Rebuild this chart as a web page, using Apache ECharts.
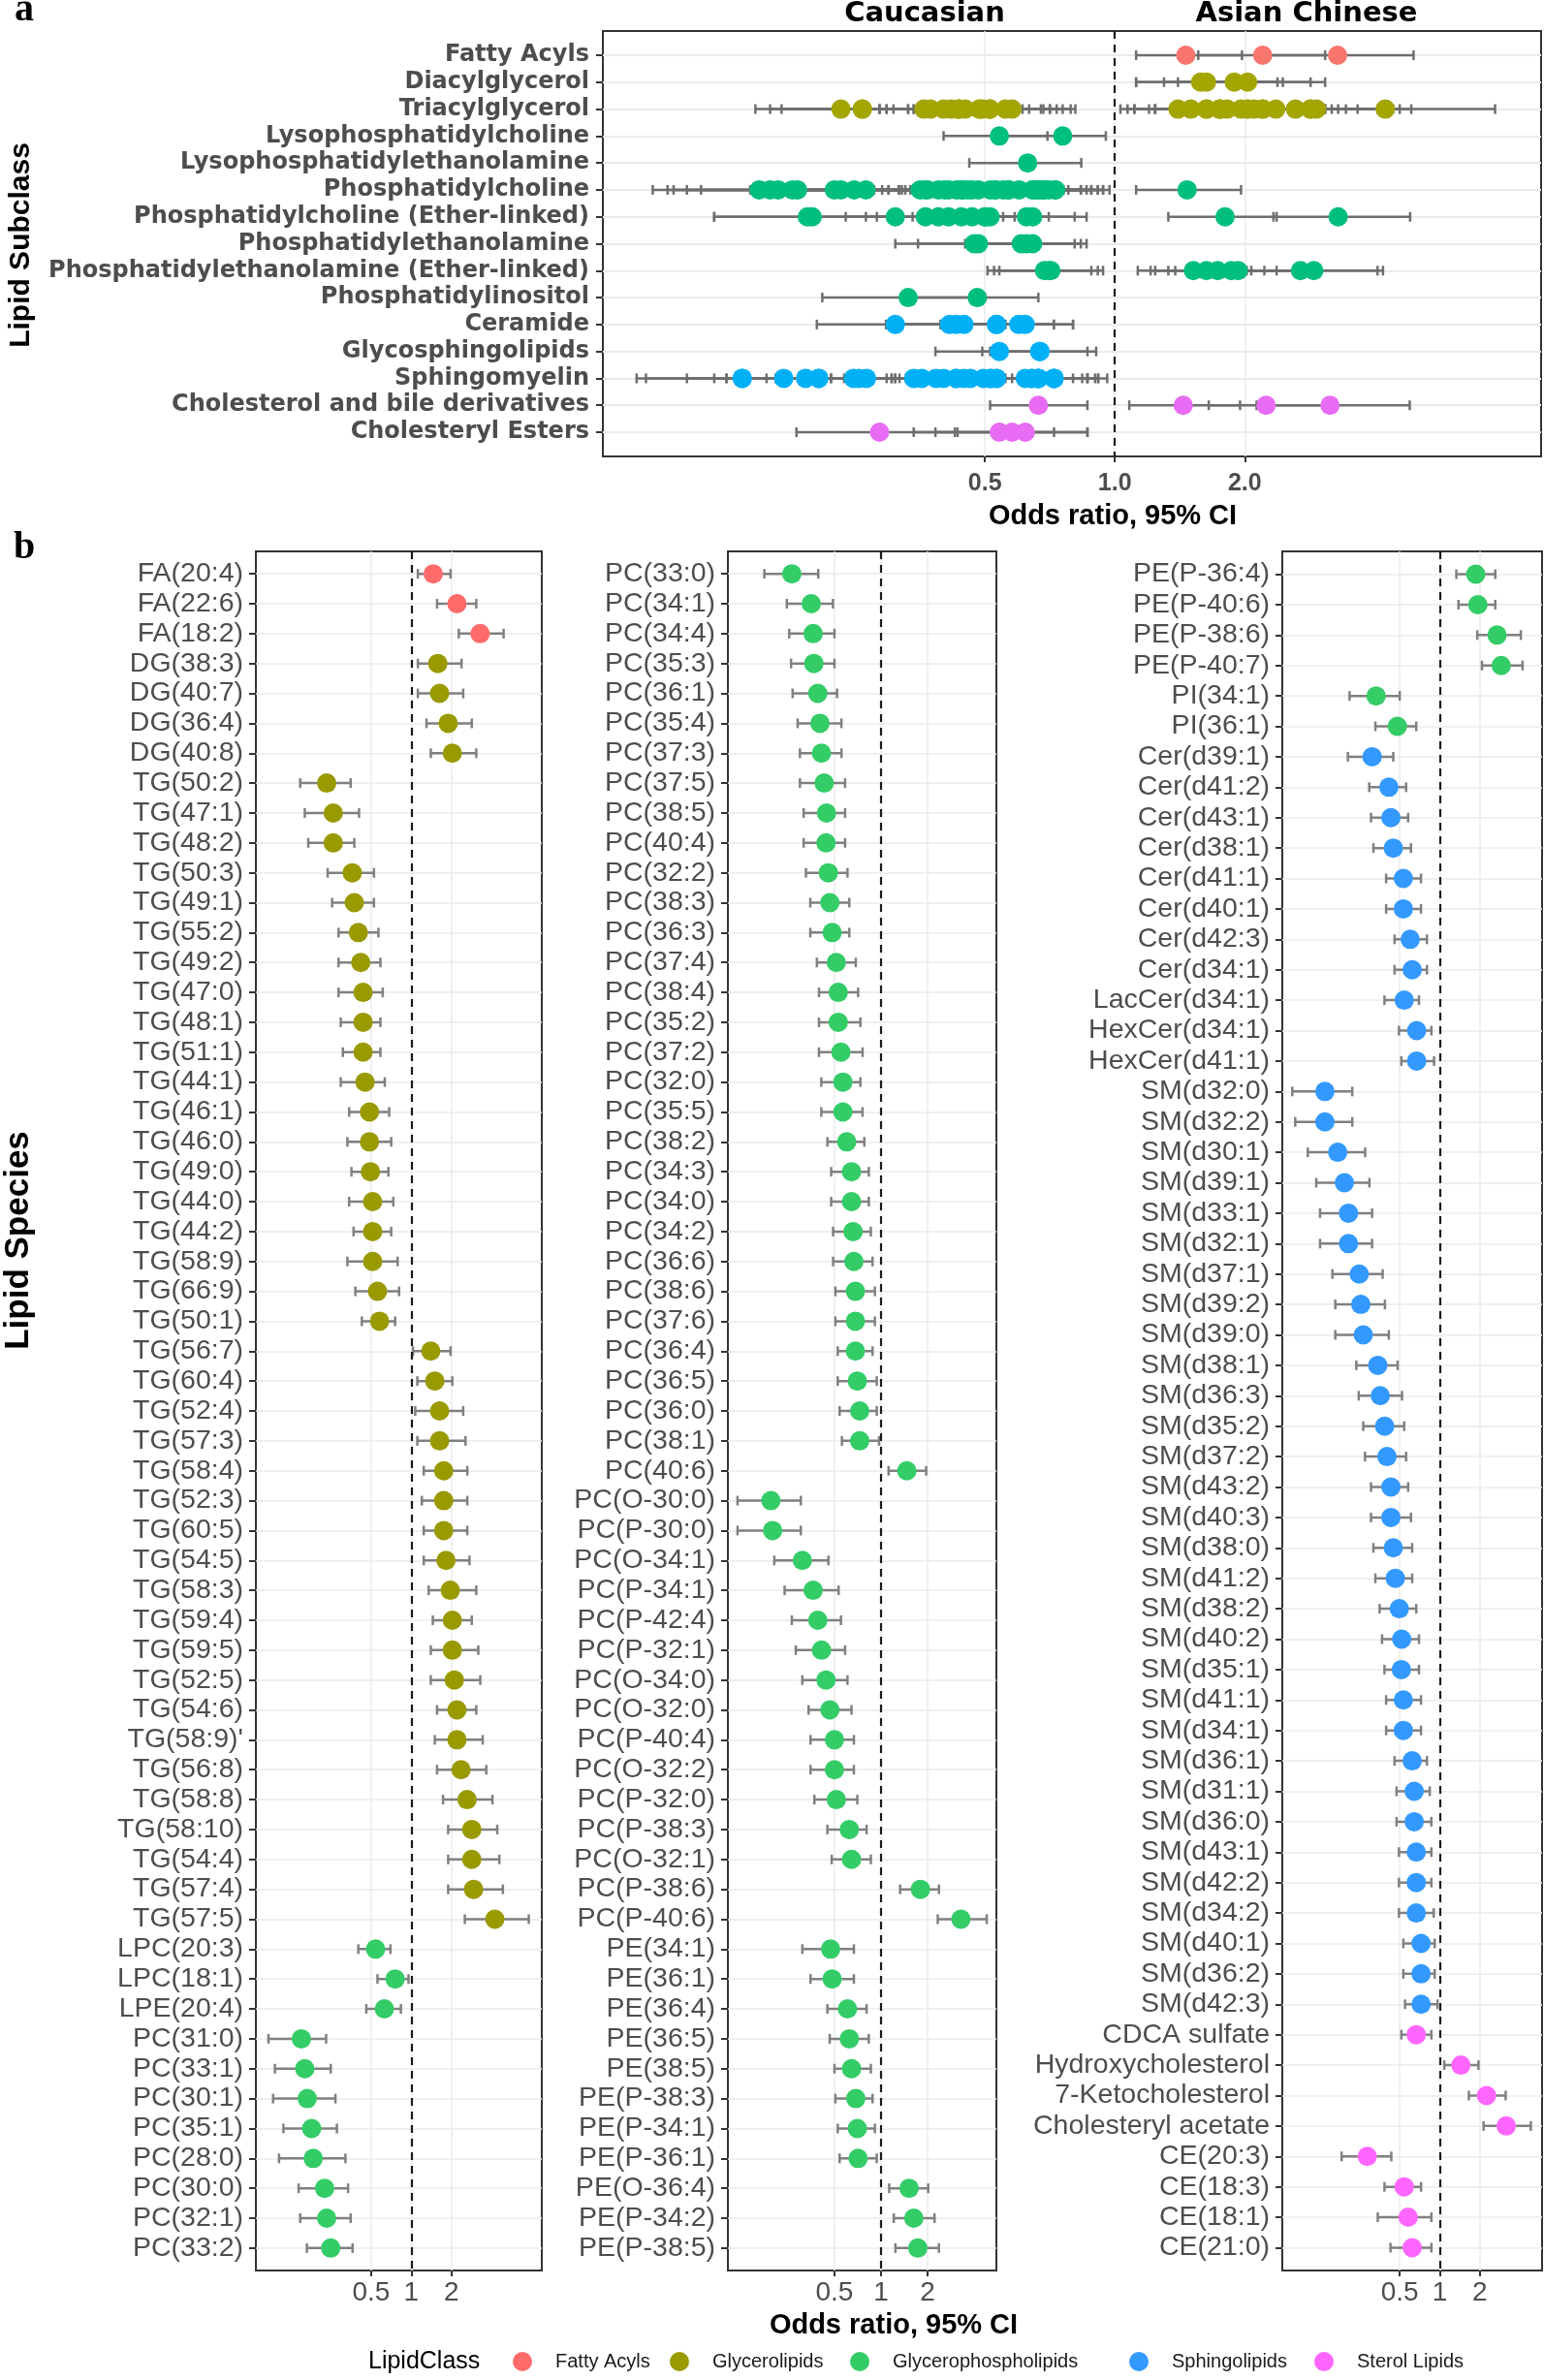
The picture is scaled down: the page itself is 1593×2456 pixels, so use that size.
<!DOCTYPE html>
<html><head><meta charset="utf-8">
<script src="https://cdn.jsdelivr.net/npm/echarts@6/dist/echarts.min.js"></script>
<style>html,body{margin:0;padding:0;background:#fff}#c{width:1593px;height:2456px}</style>
</head><body><div id="c"></div>
<script>
// ---------------- DATA ----------------
const b1Names = ['FA(20:4)','FA(22:6)','FA(18:2)','DG(38:3)','DG(40:7)','DG(36:4)','DG(40:8)','TG(50:2)','TG(47:1)','TG(48:2)','TG(50:3)','TG(49:1)','TG(55:2)','TG(49:2)','TG(47:0)','TG(48:1)','TG(51:1)','TG(44:1)','TG(46:1)','TG(46:0)','TG(49:0)','TG(44:0)','TG(44:2)','TG(58:9)','TG(66:9)','TG(50:1)','TG(56:7)','TG(60:4)','TG(52:4)','TG(57:3)','TG(58:4)','TG(52:3)','TG(60:5)','TG(54:5)','TG(58:3)','TG(59:4)','TG(59:5)','TG(52:5)','TG(54:6)',"TG(58:9)'",'TG(56:8)','TG(58:8)','TG(58:10)','TG(54:4)','TG(57:4)','TG(57:5)','LPC(20:3)','LPC(18:1)','LPE(20:4)','PC(31:0)','PC(33:1)','PC(30:1)','PC(35:1)','PC(28:0)','PC(30:0)','PC(32:1)','PC(33:2)'];
const b1OR = [1.46,2.2,3.28,1.58,1.63,1.89,2.03, 0.232,0.26,0.26,0.361,0.374,0.401,0.418,0.435,0.435,0.435,0.45,0.486, 0.486,0.494,0.513,0.513,0.513,0.558,0.578, 1.40,1.50,1.63,1.63,1.75,1.75,1.75,1.82,1.96,2.03,2.03,2.10,2.2,2.2,2.36,2.62, 2.84,2.84,2.93,4.23, 0.54,0.757,0.628, 0.15,0.159,0.166,0.179,0.184,0.224,0.232,0.249];
const b1Lo = [1.12,1.56,2.27,1.12,1.12,1.30,1.40, 0.147,0.159,0.169,0.236,0.255,0.285,0.285,0.285,0.296,0.307,0.296,0.342, 0.332,0.356,0.342,0.369,0.332,0.381,0.426, 1.03,1.11,1.07,1.11,1.24,1.20,1.24,1.24,1.35,1.45,1.40,1.40,1.56,1.50,1.56,1.73, 1.89,1.89,1.89,2.52, 0.401,0.558,0.46, 0.085,0.095,0.092,0.11,0.102,0.143,0.147,0.165];
const b1Hi = [1.97,3.07,4.92,2.38,2.45,2.84,3.07, 0.351,0.406,0.374,0.525,0.525,0.567,0.587,0.611,0.587,0.587,0.633,0.683, 0.707,0.674,0.733,0.707,0.79,0.81,0.757, 1.97,2.03,2.45,2.55,2.63,2.63,2.63,2.73,3.07,2.84,3.18,3.29,3.07,3.43,3.65,4.06, 4.41,4.57,4.86,7.6, 0.698,0.953,0.836, 0.23,0.249,0.27,0.277,0.321,0.336,0.351,0.363];

const b2Names = ['PC(33:0)','PC(34:1)','PC(34:4)','PC(35:3)','PC(36:1)','PC(35:4)','PC(37:3)','PC(37:5)','PC(38:5)','PC(40:4)','PC(32:2)','PC(38:3)','PC(36:3)','PC(37:4)','PC(38:4)','PC(35:2)','PC(37:2)','PC(32:0)','PC(35:5)','PC(38:2)','PC(34:3)','PC(34:0)','PC(34:2)','PC(36:6)','PC(38:6)','PC(37:6)','PC(36:4)','PC(36:5)','PC(36:0)','PC(38:1)','PC(40:6)','PC(O-30:0)','PC(P-30:0)','PC(O-34:1)','PC(P-34:1)','PC(P-42:4)','PC(P-32:1)','PC(O-34:0)','PC(O-32:0)','PC(P-40:4)','PC(O-32:2)','PC(P-32:0)','PC(P-38:3)','PC(O-32:1)','PC(P-38:6)','PC(P-40:6)','PE(34:1)','PE(36:1)','PE(36:4)','PE(36:5)','PE(38:5)','PE(P-38:3)','PE(P-34:1)','PE(P-36:1)','PE(O-36:4)','PE(P-34:2)','PE(P-38:5)'];
const b2OR = [0.265,0.354,0.364,0.368,0.39,0.403,0.412,0.429,0.444,0.441,0.456,0.467,0.483,0.514,0.529,0.529,0.551,0.567,0.567, 0.60,0.645,0.645,0.66,0.668,0.683,0.683,0.683,0.703,0.728,0.728,1.47, 0.194,0.199,0.31,0.364,0.39,0.412,0.441,0.467,0.5,0.5,0.514, 0.624,0.645,1.8,3.29, 0.472,0.483,0.607,0.624,0.645,0.687,0.703,0.711,1.52,1.63,1.73];
const b2Lo = [0.176,0.246,0.255,0.262,0.268,0.289,0.299,0.299,0.316,0.316,0.327,0.349,0.349,0.385,0.397,0.397,0.397,0.411,0.411, 0.45,0.476,0.476,0.49,0.49,0.507,0.507,0.525,0.525,0.54,0.559,1.12, 0.118,0.118,0.204,0.238,0.265,0.281,0.31,0.34,0.35,0.35,0.371, 0.45,0.48,1.33,2.33, 0.31,0.35,0.45,0.466,0.5,0.507,0.525,0.54,1.13,1.21,1.24];
const b2Hi = [0.393,0.489,0.5,0.5,0.52,0.555,0.555,0.586,0.586,0.586,0.607,0.624,0.624,0.687,0.711,0.736,0.76,0.736,0.76, 0.78,0.834,0.834,0.86,0.882,0.913,0.913,0.882,0.939,0.939,0.972,1.96, 0.303,0.303,0.457,0.532,0.551,0.586,0.607,0.645,0.668,0.668,0.703, 0.807,0.86,2.37,4.83, 0.668,0.668,0.807,0.834,0.86,0.882,0.913,0.939,2.02,2.22,2.37];

const b3Names = ['PE(P-36:4)','PE(P-40:6)','PE(P-38:6)','PE(P-40:7)','PI(34:1)','PI(36:1)','Cer(d39:1)','Cer(d41:2)','Cer(d43:1)','Cer(d38:1)','Cer(d41:1)','Cer(d40:1)','Cer(d42:3)','Cer(d34:1)','LacCer(d34:1)','HexCer(d34:1)','HexCer(d41:1)','SM(d32:0)','SM(d32:2)','SM(d30:1)','SM(d39:1)','SM(d33:1)','SM(d32:1)','SM(d37:1)','SM(d39:2)','SM(d39:0)','SM(d38:1)','SM(d36:3)','SM(d35:2)','SM(d37:2)','SM(d43:2)','SM(d40:3)','SM(d38:0)','SM(d41:2)','SM(d38:2)','SM(d40:2)','SM(d35:1)','SM(d41:1)','SM(d34:1)','SM(d36:1)','SM(d31:1)','SM(d36:0)','SM(d43:1)','SM(d42:2)','SM(d34:2)','SM(d40:1)','SM(d36:2)','SM(d42:3)','CDCA sulfate','Hydroxycholesterol','7-Ketocholesterol','Cholesteryl acetate','CE(20:3)','CE(18:3)','CE(18:1)','CE(21:0)'];
const b3OR = [1.86,1.93,2.69,2.89,0.332,0.48, 0.31,0.414,0.429,0.447,0.532,0.532,0.599,0.62, 0.54,0.67,0.67, 0.137,0.137,0.171,0.192,0.206,0.206,0.248,0.255,0.266,0.342,0.357,0.385,0.401,0.429,0.429,0.447,0.463,0.496,0.517,0.514,0.532,0.532,0.62,0.642, 0.642,0.665,0.665,0.665,0.723,0.723,0.723, 0.665,1.44,2.24,3.15, 0.285,0.54,0.578,0.62];
const b3Lo = [1.33,1.38,1.91,2.07,0.21,0.328, 0.204,0.295,0.304,0.317,0.395,0.395,0.457,0.457, 0.384,0.493,0.514, 0.078,0.082,0.102,0.118,0.126,0.126,0.156,0.164,0.164,0.236,0.246,0.266,0.274,0.304,0.304,0.317,0.328,0.353,0.368,0.384,0.395,0.395,0.457,0.473, 0.473,0.493,0.493,0.493,0.532,0.532,0.548, 0.514,1.08,1.65,2.13, 0.183,0.384,0.342,0.426];
const b3Hi = [2.61,2.61,4.06,4.18,0.50,0.665, 0.447,0.558,0.578,0.607,0.722,0.722,0.80,0.80, 0.697,0.864,0.905, 0.22,0.22,0.275,0.296,0.31,0.31,0.372,0.387,0.414,0.482,0.52,0.54,0.558,0.578,0.607,0.62,0.62,0.665,0.697,0.697,0.722,0.722,0.80,0.84, 0.864,0.864,0.864,0.9,0.915,0.915,0.96, 0.864,1.95,3.12,4.82, 0.432,0.723,0.864,0.864];

const subclassNames = ['Fatty Acyls','Diacylglycerol','Triacylglycerol','Lysophosphatidylcholine','Lysophosphatidylethanolamine','Phosphatidylcholine','Phosphatidylcholine (Ether-linked)','Phosphatidylethanolamine','Phosphatidylethanolamine (Ether-linked)','Phosphatidylinositol','Ceramide','Glycosphingolipids','Sphingomyelin','Cholesterol and bile derivatives','Cholesteryl Esters'];
const classNames = ['Fatty Acyls','Glycerolipids','Glycerophospholipids','Sphingolipids','Sterol Lipids'];
const subclassClass = [0,1,1,2,2,2,2,2,2,2,3,3,3,4,4];

const xTickValues = [0.5, 1, 2];
const xTickLabelsA = ['0.5','1.0','2.0'];
const xTickLabelsB = ['0.5','1','2'];

// ---------------- STYLE / LAYOUT ----------------
const colorsA = ['#F8766D','#A3A500','#00BF7D','#00B0F6','#E76BF3'];
const colorsB = ['#FF6B6B','#999900','#33CC66','#3399FF','#FF66FF'];
const SANS = '"Liberation Sans", Arial, sans-serif';
const DV = '"DejaVu Sans", sans-serif';
const SERIF = '"Liberation Serif", "Times New Roman", serif';
const L2 = Math.log2;

function subclassOf(n){
  if (/^FA\(/.test(n)) return 0;
  if (/^DG\(/.test(n)) return 1;
  if (/^TG\(/.test(n)) return 2;
  if (/^LPC\(/.test(n)) return 3;
  if (/^LPE\(/.test(n)) return 4;
  if (/^PC\([OP]-/.test(n)) return 6;
  if (/^PC\(/.test(n)) return 5;
  if (/^PE\([OP]-/.test(n)) return 8;
  if (/^PE\(/.test(n)) return 7;
  if (/^PI\(/.test(n)) return 9;
  if (/^Cer\(/.test(n)) return 10;
  if (/^(Lac|Hex)Cer\(/.test(n)) return 11;
  if (/^SM\(/.test(n)) return 12;
  if (/^CE\(/.test(n)) return 14;
  return 13;
}

const panels = [
  {names:b1Names, or:b1OR, lo:b1Lo, hi:b1Hi, left:264, width:295, xmin:-3.87, xmax:3.25},
  {names:b2Names, or:b2OR, lo:b2Lo, hi:b2Hi, left:751, width:277, xmin:-3.29, xmax:2.48},
  {names:b3Names, or:b3OR, lo:b3Lo, hi:b3Hi, left:1323, width:268, xmin:-3.93, xmax:2.55}
];

function errRender(capH, lw, col){
  return function(params, api){
    const y = api.value(2);
    const p1 = api.coord([api.value(0), y]);
    const p2 = api.coord([api.value(1), y]);
    const st = {stroke: col, lineWidth: lw};
    return {type:'group', children:[
      {type:'line', shape:{x1:p1[0], y1:p1[1], x2:p2[0], y2:p2[1]}, style:st},
      {type:'line', shape:{x1:p1[0], y1:p1[1]-capH, x2:p1[0], y2:p1[1]+capH}, style:st},
      {type:'line', shape:{x1:p2[0], y1:p2[1]-capH, x2:p2[0], y2:p2[1]+capH}, style:st}
    ]};
  };
}
const dashLine = () => ({silent:true, symbol:['none','none'], label:{show:false}, animation:false,
  lineStyle:{type:[8,6], color:'#1a1a1a', width:2.2}, emphasis:{disabled:true}, data:[{xAxis:0}]});

const tickVals = xTickValues.map(L2);
const grids = [{left:622, top:32, width:968, height:439, show:true, borderColor:'#333', borderWidth:2, backgroundColor:'#fff'}];
const xAxes = [{
  type:'value', gridIndex:0, min:-3.94, max:3.28,
  axisLine:{show:false, onZero:false},
  axisTick:{show:true, customValues:tickVals, length:6, lineStyle:{color:'#333', width:2}},
  axisLabel:{customValues:tickVals, margin:16, fontSize:25, fontWeight:'bold', color:'#4D4D4D', fontFamily:SANS,
    formatter:v=>xTickLabelsA[tickVals.findIndex(t=>Math.abs(t-v)<1e-6)]},
  splitLine:{show:true, lineStyle:{color:'#EBEBEB', width:1.5}}
}];
const aIdx = subclassNames.map((_,i)=>i);
const yAxes = [{
  type:'value', gridIndex:0, inverse:true, min:-0.9, max:subclassNames.length-1+0.9,
  axisLine:{show:false, onZero:false},
  axisTick:{show:true, customValues:aIdx, length:7, lineStyle:{color:'#333', width:2}},
  axisLabel:{customValues:aIdx, margin:14, fontSize:24, fontWeight:'bold', color:'#4D4D4D', fontFamily:DV,
    formatter:v=>subclassNames[Math.round(v)]},
  splitLine:{show:true, lineStyle:{color:'#EBEBEB', width:2}}
}];
const series = [];

panels.forEach((p, pi) => {
  const g = pi + 1;
  const n = p.names.length;
  const idx = p.names.map((_,i)=>i);
  grids.push({left:p.left, top:569, width:p.width, height:1774, show:true, borderColor:'#333', borderWidth:2, backgroundColor:'#fff'});
  xAxes.push({
    type:'value', gridIndex:g, min:p.xmin, max:p.xmax,
    axisLine:{show:false, onZero:false},
    axisTick:{show:true, customValues:tickVals, length:6, lineStyle:{color:'#333', width:2}},
    axisLabel:{customValues:tickVals, margin:9, fontSize:28, color:'#4D4D4D', fontFamily:SANS,
      formatter:v=>xTickLabelsB[tickVals.findIndex(t=>Math.abs(t-v)<1e-6)]},
    splitLine:{show:true, lineStyle:{color:'#EBEBEB', width:1.5}}
  });
  yAxes.push({
    type:'value', gridIndex:g, inverse:true, min:-0.75, max:n-1+0.75,
    axisLine:{show:false, onZero:false},
    axisTick:{show:true, customValues:idx, length:7, lineStyle:{color:'#333', width:2}},
    axisLabel:{customValues:idx, margin:13, fontSize:28.5, color:'#4D4D4D', fontFamily:SANS,
      formatter:v=>p.names[Math.round(v)]},
    splitLine:{show:true, lineStyle:{color:'#EBEBEB', width:1.5}}
  });
  series.push({type:'custom', name:'ci'+g, xAxisIndex:g, yAxisIndex:g, silent:true, z:2,
    renderItem: errRender(5, 2.5, '#808080'),
    encode:{x:[0,1], y:2},
    data: p.names.map((nm,i)=>[L2(p.lo[i]), L2(p.hi[i]), i]),
    markLine: dashLine()});
  classNames.forEach((cn, k) => {
    const d = [];
    p.names.forEach((nm,i)=>{ if (subclassClass[subclassOf(nm)] === k) d.push([L2(p.or[i]), i]); });
    if (d.length) series.push({type:'scatter', name:cn, xAxisIndex:g, yAxisIndex:g, data:d, symbolSize:20, z:3,
      itemStyle:{color:colorsB[k], opacity:1}, emphasis:{disabled:true}});
  });
});

// panel a: every species, grouped by subclass
const aCI = [];
const aPts = classNames.map(()=>[]);
panels.forEach(p => p.names.forEach((nm,i) => {
  const s = subclassOf(nm);
  aCI.push([L2(p.lo[i]), L2(p.hi[i]), s]);
  aPts[subclassClass[s]].push([L2(p.or[i]), s]);
}));
series.push({type:'custom', name:'ciA', xAxisIndex:0, yAxisIndex:0, silent:true, z:2,
  renderItem: errRender(5, 2.5, '#6E6E6E'), encode:{x:[0,1], y:2}, data:aCI, markLine: dashLine()});
classNames.forEach((cn,k) => {
  series.push({type:'scatter', name:cn, xAxisIndex:0, yAxisIndex:0, data:aPts[k], symbolSize:20, z:3,
    itemStyle:{color:colorsA[k], opacity:1}, emphasis:{disabled:true}});
});

const legendCenters = [539, 701, 887, 1175, 1366];
const legends = classNames.map((cn,k)=>({
  data:[{name:cn, itemStyle:{color:colorsB[k]}}], left:legendCenters[k]-10, top:2427, padding:0,
  icon:'circle', itemWidth:20, itemHeight:20, selectedMode:false,
  textStyle:{fontSize:20, color:'#1a1a1a', fontFamily:SANS, padding:[0,0,0,19]}
}));

const txt = (x,y,text,font,extra) => Object.assign({type:'text', x:x, y:y, silent:true,
  style:{text:text, font:font, fill:'#000', textAlign:'center', textVerticalAlign:'middle'}}, extra||{});

const option = {
  backgroundColor:'#fff', animation:false,
  grid: grids, xAxis: xAxes, yAxis: yAxes, series: series, legend: legends,
  graphic: [
    txt(25, 11, 'a', 'bold 40px '+SERIF),
    txt(25, 566, 'b', 'bold 40px '+SERIF),
    txt(954, 14, 'Caucasian', 'bold 29px '+DV),
    txt(1348, 14, 'Asian Chinese', 'bold 29px '+DV),
    txt(1148, 533, 'Odds ratio, 95% CI', 'bold 29px '+SANS),
    txt(922, 2400, 'Odds ratio, 95% CI', 'bold 29px '+SANS),
    txt(22, 253, 'Lipid Subclass', 'bold 30px '+SANS, {rotation:Math.PI/2}),
    txt(19, 1280, 'Lipid Species', 'bold 35px '+SANS, {rotation:Math.PI/2}),
    {type:'text', x:380, y:2437, silent:true, style:{text:'LipidClass', font:'25px '+SANS, fill:'#000', textAlign:'left', textVerticalAlign:'middle'}}
  ]
};
const chart = echarts.init(document.getElementById('c'), null, {renderer:'canvas'});
chart.setOption(option);
</script></body></html>
